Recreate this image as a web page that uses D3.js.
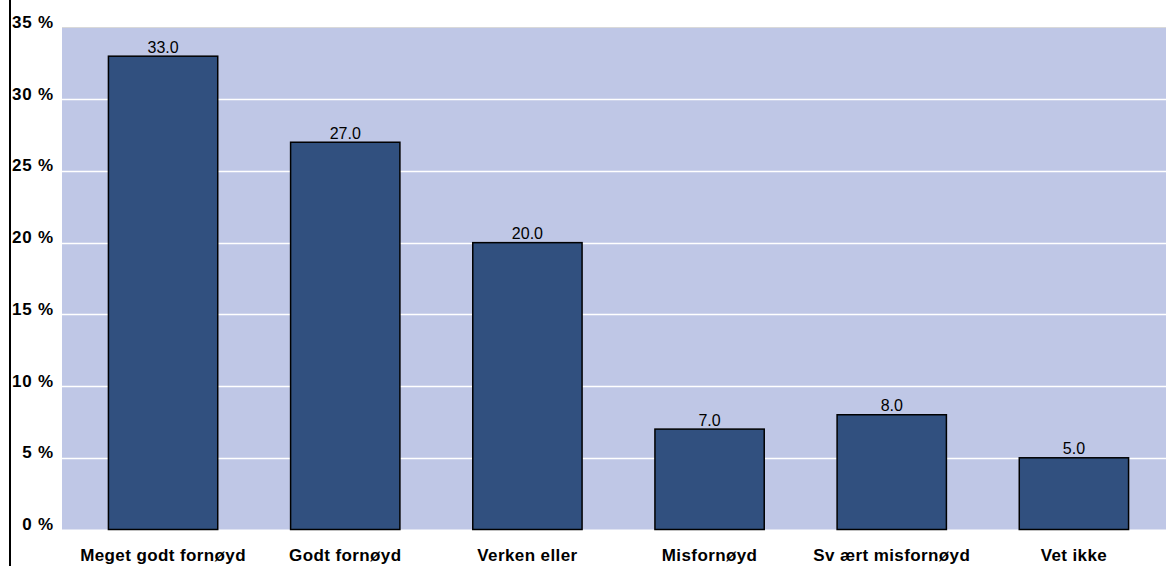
<!DOCTYPE html>
<html>
<head>
<meta charset="utf-8">
<script src="https://cdn.jsdelivr.net/npm/d3@7"></script>
<style>
  html, body { margin: 0; padding: 0; background: #fff; }
  svg { display: block; }
  text { font-family: "Liberation Sans", Arial, sans-serif; }
</style>
</head>
<body>
<script>
const categories = ["Meget godt fornøyd", "Godt fornøyd", "Verken eller", "Misfornøyd", "Sv ært misfornøyd", "Vet ikke"];
const values = [33.0, 27.0, 20.0, 7.0, 8.0, 5.0];
const yTicks = [0, 5, 10, 15, 20, 25, 30, 35];

const W = 1170, H = 566;
const plot = { left: 62, right: 1166, top: 27.5, bottom: 529.5 };

const svg = d3.select("body").append("svg").attr("width", W).attr("height", H);

const x = d3.scaleBand().domain(categories).range([72, 1165]).paddingInner(0.4).paddingOuter(0.2);
const y = d3.scaleLinear().domain([0, 35]).range([plot.bottom, plot.top]);

// plot background
svg.append("rect")
  .attr("x", plot.left).attr("y", plot.top)
  .attr("width", plot.right - plot.left).attr("height", plot.bottom - plot.top)
  .attr("fill", "#BFC7E6");

// top border line
svg.append("line")
  .attr("x1", plot.left).attr("x2", plot.right)
  .attr("y1", plot.top).attr("y2", plot.top)
  .attr("stroke", "#d9d9d9").attr("stroke-width", 1);

// gridlines
svg.append("g").selectAll("line")
  .data(yTicks.filter(t => t > 0 && t < 35))
  .join("line")
  .attr("x1", plot.left).attr("x2", plot.right)
  .attr("y1", d => Math.round(y(d)) + 0.5).attr("y2", d => Math.round(y(d)) + 0.5)
  .attr("stroke", "#ffffff").attr("stroke-width", 1.5);

// y axis labels (via d3 axis, lines hidden)
const yAxis = d3.axisLeft(y).tickValues(yTicks).tickFormat(d => d + " %").tickSize(0).tickPadding(0);
const gy = svg.append("g").attr("transform", "translate(54,0)").call(yAxis);
gy.select(".domain").remove();
gy.selectAll("text")
  .attr("dy", "0")
  .attr("font-family", "'Liberation Sans', Arial, sans-serif")
  .attr("font-size", 17).attr("font-weight", "bold").attr("fill", "#000")
  .style("letter-spacing", "0.8px");

// bars
svg.append("g").selectAll("rect")
  .data(values)
  .join("rect")
  .attr("x", (d, i) => x(categories[i]))
  .attr("y", d => y(d))
  .attr("width", x.bandwidth())
  .attr("height", d => y(0) - y(d))
  .attr("fill", "#31507F")
  .attr("stroke", "#000").attr("stroke-width", 1.5);

// value labels
svg.append("g").selectAll("text")
  .data(values)
  .join("text")
  .attr("x", (d, i) => x(categories[i]) + x.bandwidth() / 2)
  .attr("y", d => y(d) - 3.5)
  .attr("text-anchor", "middle")
  .attr("font-size", 16).attr("fill", "#000")
  .text(d => d.toFixed(1));

// x axis labels
const xAxis = d3.axisBottom(x).tickSize(0).tickPadding(0);
const gx = svg.append("g").attr("transform", "translate(0,561)").call(xAxis);
gx.select(".domain").remove();
gx.selectAll("text")
  .attr("dy", "0").attr("y", 0)
  .attr("font-family", "'Liberation Sans', Arial, sans-serif")
  .attr("font-size", 17).attr("font-weight", "bold").attr("fill", "#000")
  .style("letter-spacing", "0.4px");

// left vertical line
svg.append("line")
  .attr("x1", 10).attr("x2", 10).attr("y1", 0).attr("y2", H)
  .attr("stroke", "#000").attr("stroke-width", 2);
</script>
</body>
</html>
